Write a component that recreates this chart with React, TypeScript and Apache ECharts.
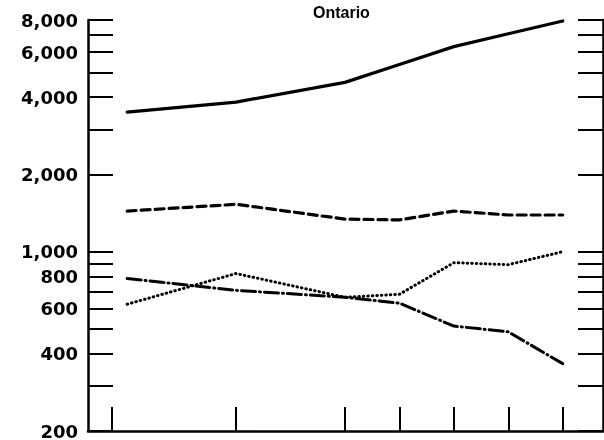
import React, { useEffect, useRef } from "react";
import * as echarts from "echarts";

const years = [1941, 1951, 1961, 1966, 1971, 1976, 1981];
const solidSeries = [3500, 3830, 4570, 5370, 6300, 7070, 7930];
const dashedSeries = [1440, 1530, 1340, 1330, 1440, 1390, 1390];
const dottedSeries = [624, 822, 664, 682, 906, 890, 1000];
const dashDotSeries = [786, 707, 664, 630, 513, 487, 366];
const xTickValues = [1939.6, 1951, 1961, 1966, 1971, 1976, 1981];
const yTickValues = [200, 300, 400, 500, 600, 700, 800, 900, 1000, 2000, 3000, 4000, 5000, 6000, 7000, 8000];
const yLabelValues = [200, 400, 600, 800, 1000, 2000, 4000, 6000, 8000];
const chartTitle = "Ontario";

const fmt = (v: number) => String(Math.round(v)).replace(/\B(?=(\d{3})+(?!\d))/g, ",");

export default function App() {
  const ref = useRef<HTMLDivElement>(null);
  useEffect(() => {
    if (!ref.current) return;
    const chart = echarts.init(ref.current, undefined, { renderer: "svg" });
    const pair = (arr: number[]) => years.map((y, i) => [y, arr[i]]);
    const yBase = (right: boolean) => ({
      type: "log",
      logBase: 10,
      min: 200,
      max: 8000,
      position: right ? "right" : "left",
      splitLine: { show: false },
      axisLine: { show: true, onZero: false, lineStyle: { color: "#000", width: 2.5 } },
      axisTick: {
        show: true,
        inside: true,
        length: 25,
        customValues: yTickValues,
        lineStyle: { color: "#000", width: 2 },
      },
      axisLabel: right
        ? { show: false }
        : {
            show: true,
            customValues: yLabelValues,
            formatter: (v: number) => fmt(v),
            color: "#000",
            fontFamily: "DejaVu Sans",
            fontWeight: "bold",
            fontSize: 18,
            margin: 10,
          },
    });
    const line = (data: number[], type: any, width = 3) => ({
      type: "line",
      data: pair(data),
      symbol: "none",
      lineStyle: { color: "#000", width, type, cap: "round" },
    });
    chart.setOption({
      animation: false,
      title: {
        text: chartTitle,
        left: 313,
        top: 4,
        padding: 0,
        textStyle: { fontFamily: "Liberation Sans", fontWeight: "bold", fontSize: 16, color: "#000" },
      },
      grid: { left: 88, right: 1, top: 20, bottom: 5, containLabel: false },
      xAxis: {
        type: "value",
        min: 1937.4,
        max: 1984.7,
        splitLine: { show: false },
        axisLine: { show: true, onZero: false, lineStyle: { color: "#000", width: 2.5 } },
        axisTick: {
          show: true,
          inside: true,
          length: 24,
          customValues: xTickValues,
          lineStyle: { color: "#000", width: 2 },
        },
        axisLabel: { show: false },
      },
      yAxis: [yBase(false), yBase(true)],
      series: [
        line(solidSeries, "solid", 3.2),
        line(dashedSeries, [9, 5], 3.2),
        line(dottedSeries, [0.5, 4], 3),
        line(dashDotSeries, [14, 4, 1, 4], 3),
      ],
    });
    return () => chart.dispose();
  }, []);
  return <div ref={ref} style={{ position: "fixed", left: 0, top: 0, width: 604, height: 440 }} />;
}
